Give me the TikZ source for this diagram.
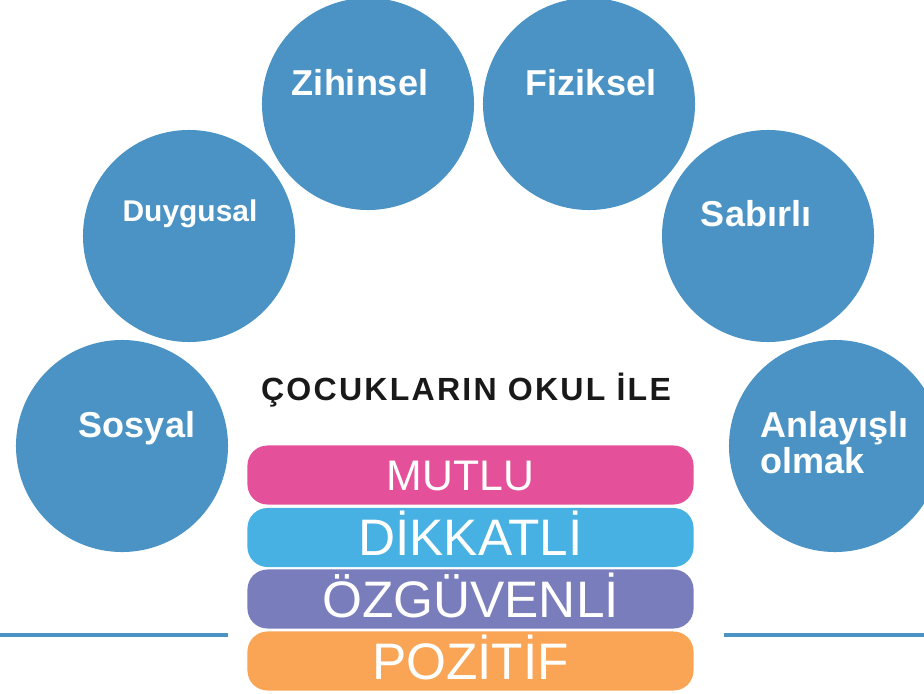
\documentclass[tikz,border=0pt]{standalone}
\usepackage{fontspec}
\setmainfont{Liberation Sans}
\newfontfamily\baslikfont[LetterSpace=7]{Liberation Sans}
\definecolor{daireMavi}{HTML}{4A93C4}
\definecolor{pembe}{HTML}{E4519A}
\definecolor{acikMavi}{HTML}{47B1E3}
\definecolor{mor}{HTML}{797DBB}
\definecolor{turuncu}{HTML}{F9A555}
\begin{document}
\begin{tikzpicture}[x=0.025cm, y=-0.025cm, line join=round, line cap=round,
	daire/.style={circle, fill=daireMavi, minimum size=5.3cm, inner sep=0pt},
	yazi/.style={text=white, anchor=base, inner sep=0pt, font=\bfseries\fontsize{25.6}{24.9}\selectfont},
	serit/.style={rounded corners=0.5cm, minimum width=11.15cm, minimum height=1.475cm, inner sep=0pt, text=white, text depth=0pt}]
	\useasboundingbox (0,0) rectangle (924,694);
	% daireler
	\node[daire] (sosyal) at (122,446) {};
	\node[daire] (duygusal) at (189,236) {};
	\node[daire] (zihinsel) at (368,104) {};
	\node[daire] (fiziksel) at (589,104) {};
	\node[daire] (sabirli) at (768,236) {};
	\node[daire] (anlayisli) at (835,446) {};
	\node[yazi] (sosyalY) at (137,437) {Sosyal};
	\node[yazi, font=\bfseries\fontsize{21.3}{24}\selectfont] (duygusalY) at (190,222) {Duygusal};
	\node[yazi] (zihinselY) at (360,96) {Zihinsel};
	\node[yazi] (fizikselY) at (591,96) {Fiziksel};
	\node[yazi] (sabirliY) at (756,227) {Sabırlı};
	\node[yazi, anchor=base west, align=left] (anlayisliY) at (760,473) {Anlayışlı\\olmak};
	% baslik
	\node[anchor=base, inner sep=0pt, font=\baslikfont\bfseries\fontsize{22.8}{26}\selectfont, text=black!90] (baslik) at (466,400) {ÇOCUKLARIN OKUL İLE};
	% seritler
	\node[serit, fill=pembe, text height=21.8pt, font=\fontsize{30.4}{34}\selectfont] (mutlu) at (470.5,475) {MUTLU\hspace*{0.5cm}};
	\node[serit, fill=acikMavi, text height=26.1pt, font=\fontsize{36.5}{40}\selectfont] (dikkatli) at (470.5,537.5) {DİKKATLİ};
	\node[serit, fill=mor, text height=26.1pt, font=\fontsize{36.5}{40}\selectfont] (ozguvenli) at (470.5,599) {ÖZGÜVENLİ};
	\node[serit, fill=turuncu, text height=26.1pt, font=\fontsize{36.5}{40}\selectfont] (pozitif) at (470.5,661) {POZİTİF};
	% cizgiler
	\draw[daireMavi, line width=3.5pt, line cap=butt] (0,635)--(228,635) (724,635)--(924,635);
\end{tikzpicture}
\end{document}
